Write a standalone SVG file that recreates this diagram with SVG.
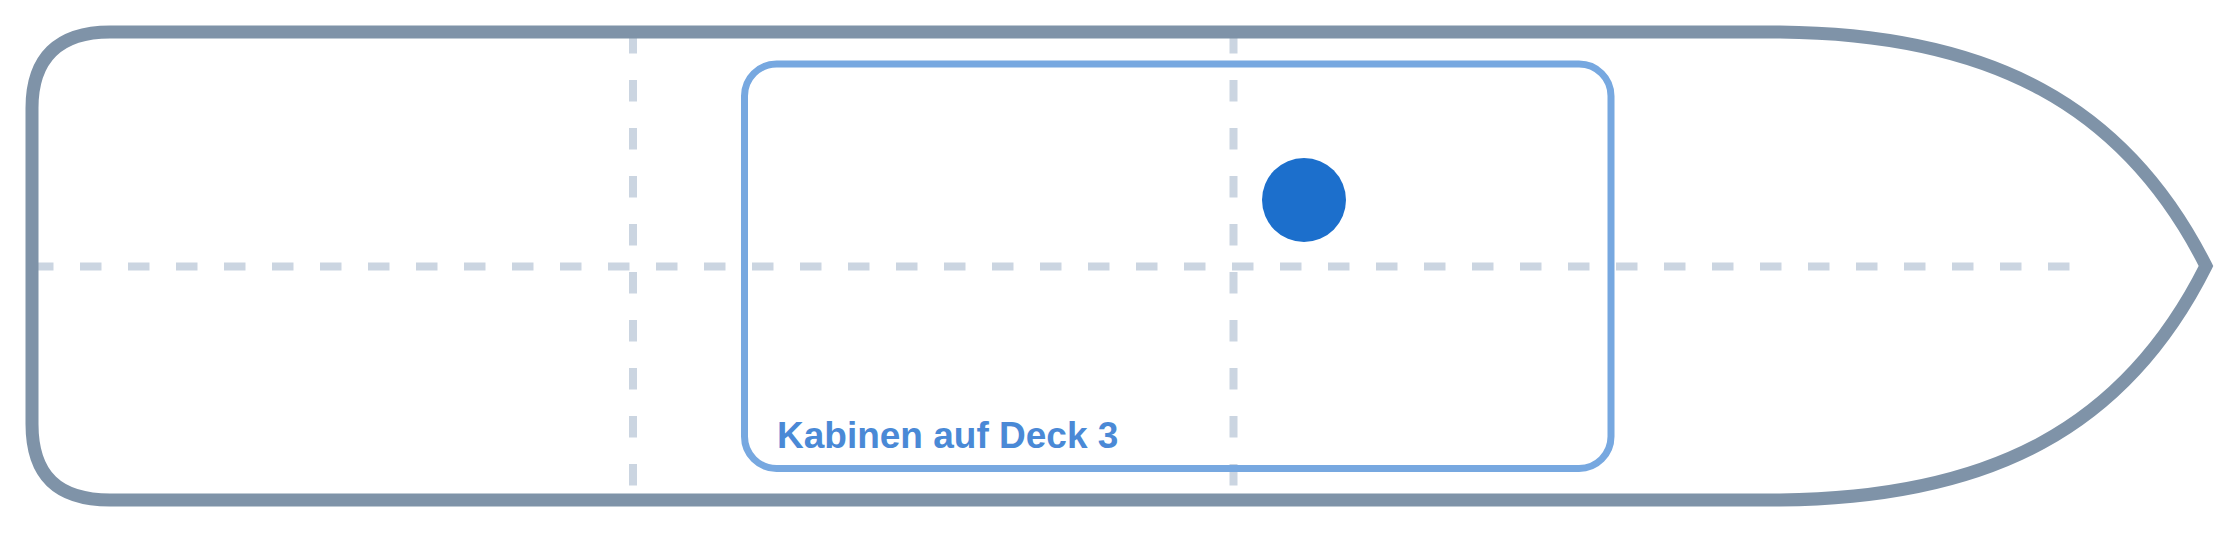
<svg xmlns="http://www.w3.org/2000/svg" width="2240" height="533" viewBox="0 0 2240 533">
  <style>
    .guide { stroke: #cbd5e1; stroke-width: 8; stroke-dasharray: 21.5 26.5; fill: none; }
    .hull { fill: none; stroke: #7f93a8; stroke-width: 13; stroke-linejoin: miter; }
    .zone { fill: none; stroke: #77a8e0; stroke-width: 7; }
    .zone-label { font-family: "Liberation Sans", Arial, sans-serif; font-weight: bold; font-size: 37px; fill: #4a89d6; }
    .marker { fill: #1c6fcc; }
  </style>
  <rect width="2240" height="533" fill="#ffffff"/>
  <g id="guides">
    <line class="guide" x1="32" y1="266.5" x2="2070" y2="266.5"/>
    <line class="guide" x1="633" y1="32" x2="633" y2="500"/>
    <line class="guide" x1="1233.5" y1="32" x2="1233.5" y2="500"/>
  </g>
  <g id="hull">
    <path class="hull" d="M 110 32 L 1780 32 C 1990 34, 2125 105, 2206 266 C 2125 428, 1990 498, 1780 500 L 110 500 C 58 500, 32 476, 32 424 L 32 108 C 32 58, 58 32, 110 32 Z"/>
  </g>
  <g id="cabins-deck3">
    <rect class="zone" x="744.5" y="64" width="866.5" height="404.5" rx="32" ry="32"/>
    <text class="zone-label" x="777" y="448">Kabinen auf Deck 3</text>
  </g>
  <g id="position-marker">
    <circle class="marker" cx="1304" cy="200" r="42"/>
  </g>
</svg>
